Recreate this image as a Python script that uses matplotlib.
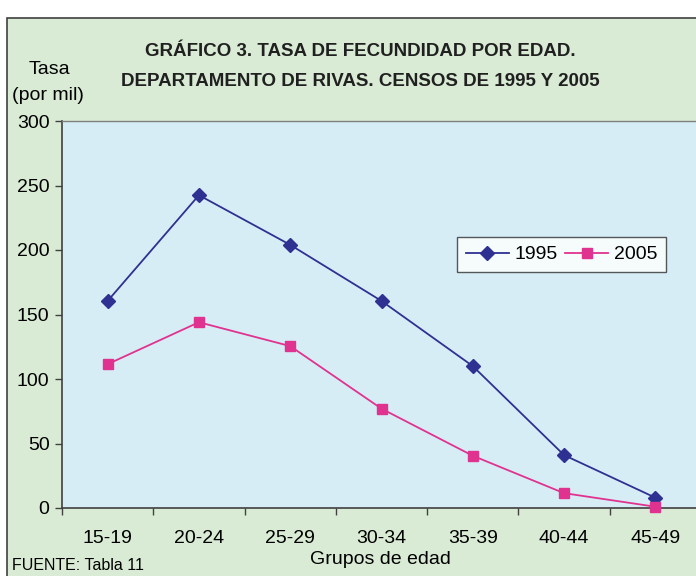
import matplotlib
matplotlib.use("Agg")
import matplotlib.pyplot as plt
import matplotlib.patches as mpatches

# ---------------------------------------------------------------------------
# Data
# ---------------------------------------------------------------------------
age_groups = ["15-19", "20-24", "25-29", "30-34", "35-39", "40-44", "45-49"]
rate_1995 = [160.5, 242.5, 204, 160.5, 110, 41, 8]
rate_2005 = [111.5, 144, 125.5, 77, 40.5, 11.5, 1]

C1995 = "#2E3192"
C2005 = "#E0338F"
GREEN = "#D9EBD4"
BLUE = "#D7EDF5"

plt.rcParams["font.family"] = ["Liberation Sans", "DejaVu Sans"]

fig = plt.figure(figsize=(6.96, 5.76), dpi=100)
fig.patch.set_facecolor("white")

# outer green frame
W, H = 696, 576
frame = mpatches.Rectangle((7 / W, -0.05), 1.0, 1 - 18 / H + 0.05,
                           transform=fig.transFigure, facecolor=GREEN,
                           edgecolor="#404040", linewidth=1.2, zorder=-10)
fig.patches.append(frame)

ax = fig.add_axes([62 / W, 1 - 508 / H, 639 / W, 387 / H])
ax.set_facecolor(BLUE)

x = list(range(len(age_groups)))
ax.plot(x, rate_1995, color=C1995, marker="D", markersize=7.5, linewidth=1.3,
        label="1995", clip_on=False, zorder=3)
ax.plot(x, rate_2005, color=C2005, marker="s", markersize=7.5, linewidth=1.3,
        label="2005", clip_on=False, zorder=3)

ax.set_xlim(-0.5, len(age_groups) - 0.5)
ax.set_ylim(0, 300)
ax.set_yticks([0, 50, 100, 150, 200, 250, 300])
ax.set_xticks([i - 0.5 for i in range(len(age_groups))], minor=False)
ax.set_xticklabels([])
ax.set_xticks(x, minor=True)
ax.set_xticklabels(age_groups, minor=True)
ax.tick_params(axis="x", which="minor", length=0, pad=16, labelsize=14)
ax.tick_params(axis="x", which="major", length=5, direction="out",
               color="#404040", width=1)
ax.tick_params(axis="y", length=5, direction="out", color="#404040",
               width=1, labelsize=14, pad=4)

for side in ("left", "bottom"):
    ax.spines[side].set_color("#404040")
    ax.spines[side].set_linewidth(1.2)
ax.spines["top"].set_color("#808080")
ax.spines["top"].set_linewidth(1.0)
ax.spines["right"].set_visible(False)

leg = ax.legend(loc="upper left", bbox_to_anchor=((457 - 62) / 639, 1 - (237 - 121) / 387),
                ncol=2, frameon=True, fancybox=False, fontsize=14,
                handlelength=2.2, handletextpad=0.3, columnspacing=0.4,
                borderpad=0.45, borderaxespad=0)
leg.get_frame().set_edgecolor("#303030")
leg.get_frame().set_linewidth(1.0)
leg.get_frame().set_facecolor("white")

# Titles and labels
fig.text(360 / W, 1 - 51 / H, "GRÁFICO 3. TASA DE FECUNDIDAD POR EDAD.",
         ha="center", va="center", fontsize=13.5, fontweight="bold",
         color="#202020")
fig.text(360 / W, 1 - 81 / H, "DEPARTAMENTO DE RIVAS. CENSOS DE 1995 Y 2005",
         ha="center", va="center", fontsize=13.5, fontweight="bold",
         color="#202020")
fig.text(49 / W, 1 - 69 / H, "Tasa", ha="center", va="center", fontsize=14)
fig.text(48 / W, 1 - 96 / H, "(por mil)", ha="center", va="center", fontsize=14)
fig.text(380 / W, 1 - 560 / H, "Grupos de edad", ha="center", va="center",
         fontsize=14)
fig.text(12 / W, 1 - 565 / H, "FUENTE: Tabla 11", ha="left", va="center",
         fontsize=11.5)

fig.savefig("out.png", dpi=100)
